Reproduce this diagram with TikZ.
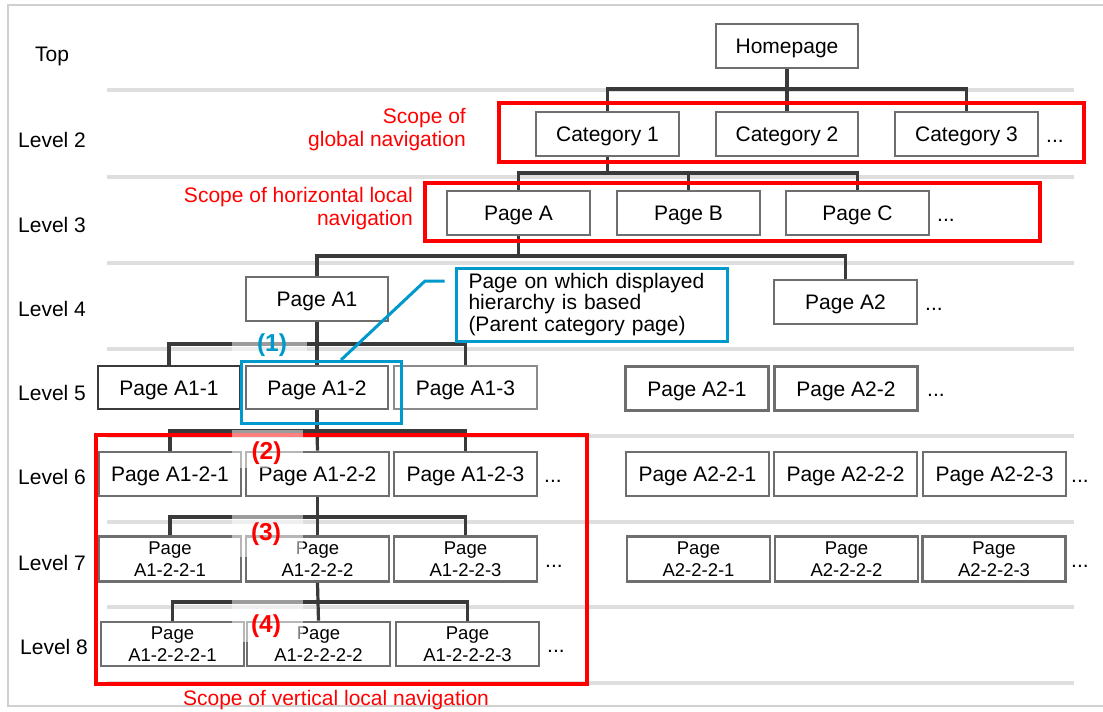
\documentclass[tikz,border=0pt]{standalone}
\usepackage{fontspec}
\setmainfont{Liberation Sans}
\definecolor{conncol}{HTML}{3A3A3A}
\definecolor{boxcol}{HTML}{6E6E6E}
\definecolor{darkbox}{HTML}{3A3A3A}
\definecolor{sepcol}{HTML}{DEDEDE}
\definecolor{framecol}{HTML}{D0D0D0}
\definecolor{navred}{HTML}{FF0000}
\definecolor{navblue}{HTML}{0099CC}
\newcommand{\mainf}{\fontsize{21}{23}\selectfont}
\newcommand{\smallf}{\fontsize{18.5}{22.3}\selectfont}
\newcommand{\calloutf}{\fontsize{21}{21.6}\selectfont}
\begin{document}
\begin{tikzpicture}[x=1pt,y=-1pt,
  conn/.style={draw=conncol,line width=3.2pt},
  pbox/.style={draw=boxcol,line width=2.6pt,fill=white,inner sep=0pt,
    minimum width=142pt,minimum height=44pt,font=\mainf},
  sbox/.style={pbox,text height=15pt,text depth=0pt},
  tbox/.style={pbox,align=center,font=\smallf},
  sep/.style={draw=sepcol,line width=4pt},
  redscope/.style={draw=navred,line width=3.6pt},
  bluescope/.style={draw=navblue,line width=3pt},
  lvl/.style={anchor=west,font=\mainf,inner sep=0pt},
  redtxt/.style={text=navred,font=\mainf,inner sep=0pt},
  dots/.style={anchor=base west,font=\mainf,inner sep=0pt},
  numlbl/.style={font=\fontsize{24.5}{26}\selectfont\bfseries,inner sep=0pt},
  patch/.style={fill=white,fill opacity=0.5,draw=none}
]
\useasboundingbox (0,0) rectangle (1103,712);
\clip (0,0) rectangle (1103,712);
% frame
\draw[framecol,line width=2pt] (8,5) rectangle (1120,706);
% level separators
\foreach \yy in {90,177,263,349,436,522,606.5,683}
  \draw[sep] (107,\yy) -- (1074,\yy);

% level labels
\node[lvl,anchor=center] (ltop) at (52,56) {Top};
\node[lvl] (l2) at (18,140) {Level 2};
\node[lvl] (l3) at (18,225) {Level 3};
\node[lvl] (l4) at (18,309) {Level 4};
\node[lvl] (l5) at (18,393) {Level 5};
\node[lvl] (l6) at (18,477) {Level 6};
\node[lvl] (l7) at (18,563) {Level 7};
\node[lvl] (l8) at (20,647) {Level 8};

% bus coordinates
\coordinate (b1) at (787,89);
\coordinate (b2) at (607.5,173);
\coordinate (b3) at (518.5,256);
\coordinate (b4) at (317,344);
\coordinate (b5) at (317,431);
\coordinate (b6) at (317.5,517);
\coordinate (b7) at (318,602);

% boxes
\node[sbox] (home) at (787,46) {Homepage};
\node[sbox,minimum width=143pt] (cat1) at (607.5,134) {Category 1};
\node[sbox] (cat2) at (787,134) {Category 2};
\node[sbox,minimum width=143pt] (cat3) at (966.5,134) {Category 3};
\node[sbox,minimum width=143pt] (pa) at (518.5,213) {Page A};
\node[sbox,minimum width=143pt] (pb) at (688.5,213) {Page B};
\node[sbox,minimum width=143pt] (pc) at (857.5,213) {Page C};
\node[sbox] (a1) at (317,299) {Page A1};
\node[sbox,minimum width=143pt] (a2) at (845.5,302) {Page A2};
\node[sbox,draw=darkbox,minimum height=43pt] (a11) at (169,387.5) {Page A1-1};
\node[sbox,minimum height=43pt] (a12) at (317,387.5) {Page A1-2};
\node[sbox,draw=boxcol!80,minimum height=43pt,minimum width=143pt] (a13) at (465.5,387.5) {Page A1-3};
\node[sbox,minimum width=143pt] (a21) at (697,388.5) {Page A2-1};
\node[sbox,minimum width=143pt] (a22) at (846,388.5) {Page A2-2};
\node[sbox] (a121) at (170,474) {Page A1-2-1};
\node[sbox,minimum width=143pt] (a122) at (317.5,474) {Page A1-2-2};
\node[sbox,minimum width=143pt] (a123) at (465.5,474) {Page A1-2-3};
\node[sbox,minimum width=143pt] (a221) at (697.5,474) {Page A2-2-1};
\node[sbox,minimum width=143pt] (a222) at (845.5,474) {Page A2-2-2};
\node[sbox,minimum width=143pt] (a223) at (994.5,474) {Page A2-2-3};
\node[tbox,minimum height=45pt] (a1221) at (170,559) {Page\\A1-2-2-1};
\node[tbox,minimum height=45pt,minimum width=143pt] (a1222) at (317.5,559) {Page\\A1-2-2-2};
\node[tbox,minimum height=45pt,minimum width=143pt] (a1223) at (465.5,559) {Page\\A1-2-2-3};
\node[tbox,minimum height=45pt,minimum width=143pt] (a2221) at (698.5,559) {Page\\A2-2-2-1};
\node[tbox,minimum height=45pt,minimum width=143pt] (a2222) at (846.5,559) {Page\\A2-2-2-2};
\node[tbox,minimum height=45pt,minimum width=143pt] (a2223) at (994,559) {Page\\A2-2-2-3};
\node[tbox,minimum width=143pt] (a12221) at (172.5,644) {Page\\A1-2-2-2-1};
\node[tbox,minimum width=143pt] (a12222) at (318.5,644) {Page\\A1-2-2-2-2};
\node[tbox,minimum width=143pt] (a12223) at (467.5,644) {Page\\A1-2-2-2-3};

% connectors
\draw[conn] (home.south) -- (b1);
\draw[conn] (cat1.north) |- (b1) -| (cat3.north);
\draw[conn] (b1) -- (cat2.north);
\draw[conn] (cat1.south) -- (b2);
\draw[conn] (pa.north) |- (b2) -| (pc.north);
\draw[conn] (b2 -| pb.north) -- (pb.north);
\draw[conn] (pa.south) -- (b3);
\draw[conn] (a1.north) |- (b3) -| (a2.north);
\draw[conn] (a1.south) -- (b4);
\draw[conn] (a11.north) |- (b4) -| (a13.north);
\draw[conn] (b4) -- (a12.north);
\draw[conn] (a12.south) -- (b5);
\draw[conn] (a121.north) |- (b5) -| (a123.north);
\draw[conn] (b5) -- (a122.north);
\draw[conn] (a122.south) -- (b6);
\draw[conn] (a1221.north) |- (b6) -| (a1223.north);
\draw[conn] (b6) -- (a1222.north);
\draw[conn] (a1222.south) -- (b7);
\draw[conn] (a12221.north) |- (b7) -| (a12223.north);
\draw[conn] (b7) -- (a12222.north);

% dots
\node[dots] (d1) at (1046,142) {...};
\node[dots] (d2) at (937,221) {...};
\node[dots] (d3) at (925,310) {...};
\node[dots] (d4) at (927,396.5) {...};
\node[dots] (d5) at (544,482) {...};
\node[dots] (d6) at (1071,482) {...};
\node[dots] (d7) at (545,567) {...};
\node[dots] (d8) at (1071,567) {...};
\node[dots] (d9) at (547,652) {...};

% red scopes
\draw[redscope] (499,103) rectangle (1084,162);
\draw[redscope] (425,183) rectangle (1040,241);
\draw[redscope] (96,435) rectangle (587,684);
\node[redtxt,align=right,anchor=east] (rt1) at (466,130) {Scope of\\global navigation};
\node[redtxt,align=right,anchor=east] (rt2) at (413,208.5) {Scope of horizontal local\\navigation};
\node[redtxt] (rt3) at (336,700) {Scope of vertical local navigation};

% translucent patches behind numbers
\fill[patch] (232,338) rectangle (307,356);
\fill[patch] (232,430) rectangle (303,468);
\fill[patch] (232,513) rectangle (303,557);
\fill[patch] (232,598) rectangle (303,642);

% blue highlight and callout
\draw[bluescope] (241,361) rectangle (401.5,423);
\node[bluescope,fill=white,minimum width=271pt,minimum height=73pt,
  text width=246pt,align=left,inner xsep=12.5pt,inner ysep=0pt,font=\calloutf]
  (callout) at (591.5,304.5) {Page on which displayed\\hierarchy is based\\(Parent category page)};
\coordinate (cstart) at (444.5,281);
\draw[bluescope] (cstart) -- (425,281) -- (341,360);

% numbers
\node[numlbl,text=navblue] (n1) at (272,345) {(1)};
\node[numlbl,text=navred] (n2) at (266.5,453) {(2)};
\node[numlbl,text=navred] (n3) at (266,534.5) {(3)};
\node[numlbl,text=navred] (n4) at (266,626) {(4)};
\end{tikzpicture}
\end{document}
